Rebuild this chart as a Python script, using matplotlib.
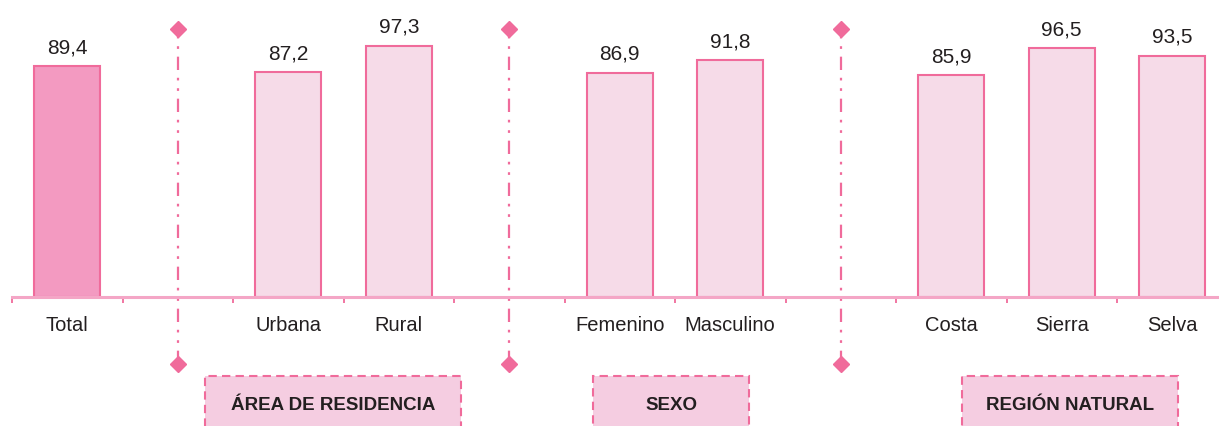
import matplotlib
matplotlib.use("Agg")
import matplotlib.pyplot as plt
from matplotlib.patches import Rectangle

categories = ["Total", "", "Urbana", "Rural", "", "Femenino", "Masculino", "", "Costa", "Sierra", "Selva"]
values = [89.4, None, 87.2, 97.3, None, 86.9, 91.8, None, 85.9, 96.5, 93.5]
groups = ["ÁREA DE RESIDENCIA", "SEXO", "REGIÓN NATURAL"]
separators = [1, 4, 7]

PINK_EDGE = "#f06b9b"
TOTAL_FILL = "#f39ac1"
LIGHT_FILL = "#f6dbe8"
BOX_FILL = "#f5cde1"
TEXT = "#231f20"

plt.rcParams["font.family"] = ["Liberation Sans", "DejaVu Sans"]

fig = plt.figure(figsize=(12.19, 4.27), dpi=100)
ax = fig.add_axes([12 / 1219, 129 / 427, 1215.5 / 1219, 271 / 427])

for i, v in enumerate(values):
    if v is None:
        continue
    fill = TOTAL_FILL if i == 0 else LIGHT_FILL
    ax.bar(i, v, width=0.6, color=fill, edgecolor=PINK_EDGE, linewidth=1.5, zorder=2)
    ax.annotate(f"{v:.1f}".replace(".", ","), (i, v), xytext=(0, 10), textcoords="offset points",
                ha="center", va="baseline", fontsize=15, color=TEXT)

ax.set_xlim(-0.5, len(categories) - 0.5)
ax.set_ylim(0, 105)

# separators between groups (centre of the empty slots)
for s in separators:
    ax.plot([s, s], [-26, 104], color=PINK_EDGE, linewidth=1.6,
            dashes=[6, 3.5, 1.2, 3.5, 1.2, 3.5], clip_on=False, zorder=1)
    ax.plot([s, s], [104, -26], linestyle="none", marker="D", markersize=8.5,
            color=PINK_EDGE, clip_on=False, zorder=3)

# group boxes below the axis
boxes = [(1.25, 3.56), (4.76, 6.17), (8.10, 10.05)]
for (x0, x1), label in zip(boxes, groups):
    ax.add_patch(Rectangle((x0, -52), x1 - x0, 21.4, facecolor=BOX_FILL, edgecolor=PINK_EDGE,
                           linewidth=1.5, linestyle=(0, (4, 2.5)), clip_on=False))
    ax.text((x0 + x1) / 2, -41.5, label, ha="center", va="center", fontsize=13.5,
            fontweight="bold", color=TEXT, clip_on=False)

ax.set_xticks(range(len(categories)))
ax.set_xticklabels(categories, fontsize=14.5, color=TEXT)
ax.set_xticks([i + 0.5 for i in range(-1, len(categories))], minor=True)
ax.tick_params(axis="x", which="major", length=0, pad=13)
ax.tick_params(axis="x", which="minor", length=4, width=1.3, color=PINK_EDGE, direction="out")
ax.set_yticks([])

for side in ["left", "right", "top"]:
    ax.spines[side].set_visible(False)
ax.spines["bottom"].set_color("#f4a6c6")
ax.spines["bottom"].set_linewidth(2.2)

fig.savefig("out.png", dpi=100)
